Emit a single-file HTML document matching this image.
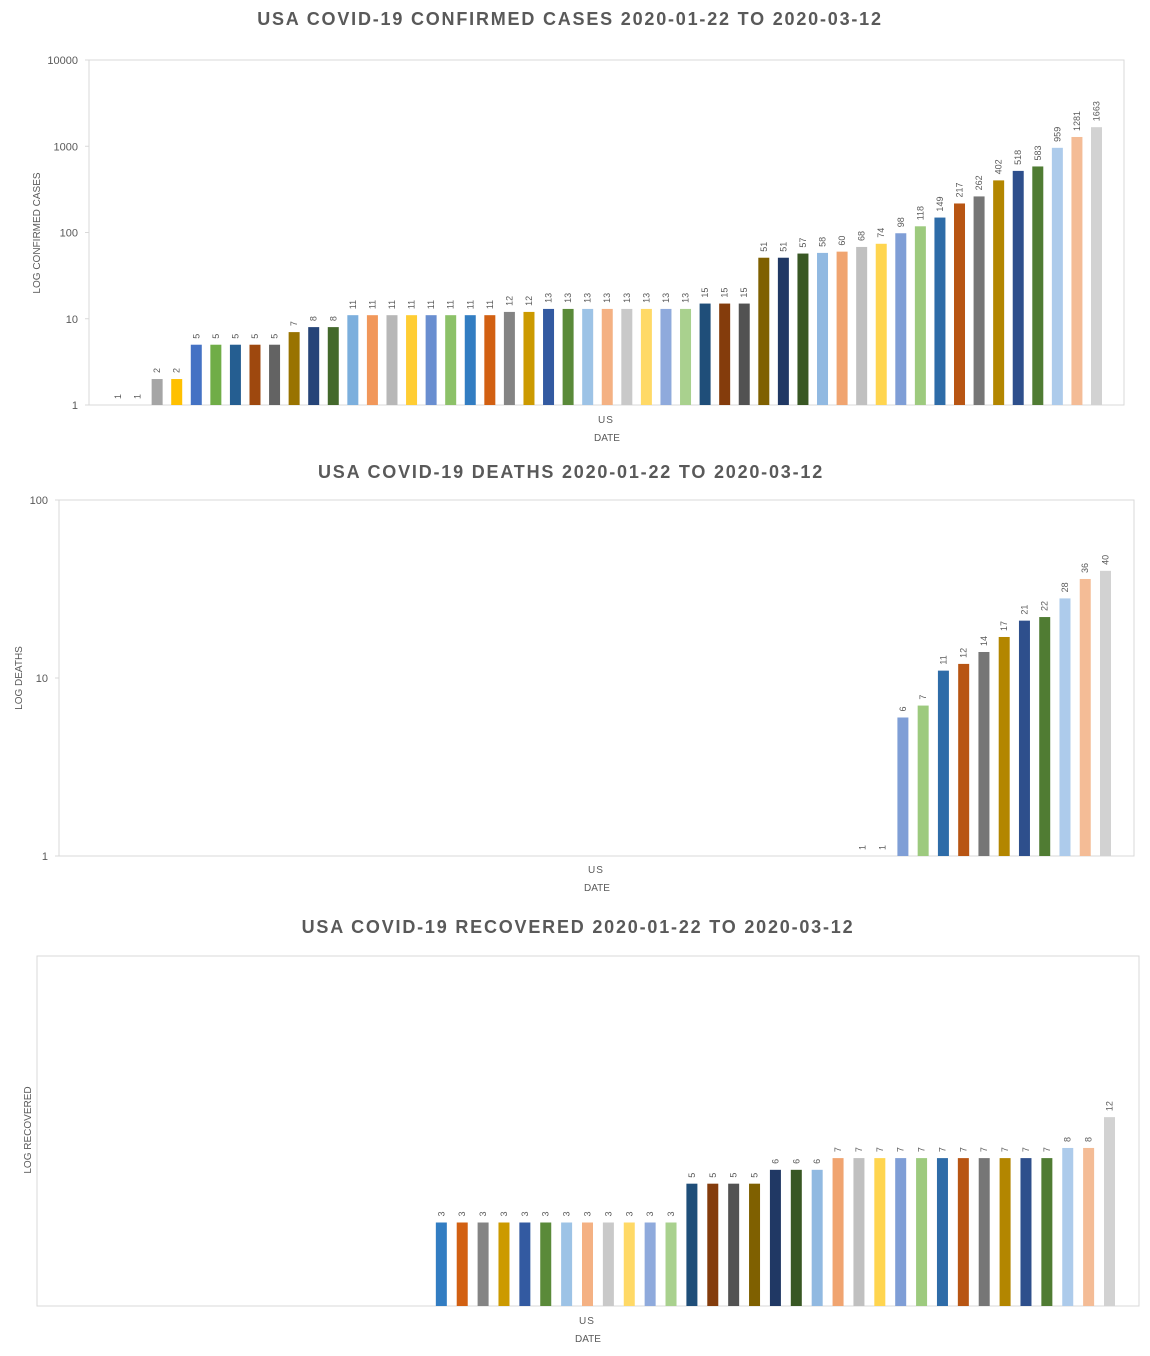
<!DOCTYPE html>
<html><head><meta charset="utf-8">
<style>
html,body{margin:0;padding:0;background:#fff;}
body{width:1150px;height:1356px;overflow:hidden;font-family:"Liberation Sans",Arial,sans-serif;}
svg{display:block;}
</style></head>
<body>
<svg id="svg" width="1150" height="1356" viewBox="0 0 1150 1356" xmlns="http://www.w3.org/2000/svg"></svg>
<script>
const colors = ["#5B9BD5","#ED7D31","#A5A5A5","#FFC000","#4472C4","#70AD47","#255E91","#9E480E","#636363","#997300","#264478","#43682B","#7CAFDD","#F1975A","#B7B7B7","#FFCD33","#698ED0","#8CC168","#327DC2","#D26012","#848484","#CC9A00","#335AA1","#5A8A39","#9DC3E6","#F4B183","#C9C9C9","#FFD966","#8FAADC","#A9D18E","#1F4E79","#843C0C","#525252","#7F6000","#203864","#385723","#91B9E1","#F0A470","#C0C0C0","#FFD54F","#7F9ED6","#9DCA7E","#2E6CA8","#B85513","#767676","#B38600","#2E4F8C","#507C33","#ADCBEB","#F4BC96","#D2D2D2"];
const confirmed = [1,1,2,2,5,5,5,5,5,7,8,8,11,11,11,11,11,11,11,11,12,12,13,13,13,13,13,13,13,13,15,15,15,51,51,57,58,60,68,74,98,118,149,217,262,402,518,583,959,1281,1663];
const deaths = [0,0,0,0,0,0,0,0,0,0,0,0,0,0,0,0,0,0,0,0,0,0,0,0,0,0,0,0,0,0,0,0,0,0,0,0,0,0,1,1,6,7,11,12,14,17,21,22,28,36,40];
const recovered = [0,0,0,0,0,0,0,0,0,0,0,0,0,0,0,0,0,0,3,3,3,3,3,3,3,3,3,3,3,3,5,5,5,5,6,6,6,7,7,7,7,7,7,7,7,7,7,7,8,8,12];
const confirmedTicks = [1,10,100,1000,10000];
const deathTicks = [1,10,100];
const recoveredTicks = [];

const NS="http://www.w3.org/2000/svg";
const svg=document.getElementById('svg');
function mk(tag,attrs,parent,text){const e=document.createElementNS(NS,tag);for(const k in attrs)e.setAttribute(k,attrs[k]);if(text!==undefined)e.textContent=text;(parent||svg).appendChild(e);return e;}

function chart(cfg){
  const g=mk('g',{});
  
  
  const {x0,x1,yTop,yBot,maxV,data}=cfg;
  const dec=Math.log10(maxV);
  const y=v=>yBot-(Math.log10(v)/dec)*(yBot-yTop);
  const n=data.length;
  const xc=i=>cfg.cFirst+(cfg.cLast-cfg.cFirst)*i/(n-1);
  const t=mk('text',{x:cfg.titleX,y:cfg.titleY,'text-anchor':'middle','font-size':'18','font-weight':'bold','letter-spacing':'1.8',fill:'#595959'},g,cfg.title);
  
  
  const fr=mk('rect',{x:x0,y:yTop,width:x1-x0,height:yBot-yTop,fill:'none',stroke:'#d9d9d9','stroke-width':1},g);
  
  
  cfg.ticks.forEach(v=>{
    const yy=y(v);
    mk('line',{x1:x0-4,x2:x0,y1:yy,y2:yy,stroke:'#d9d9d9'},g);
    const tl=mk('text',{x:x0-11,y:yy+4,'text-anchor':'end','font-size':'11',fill:'#595959'},g,String(v));
    
    
  });
  const bw=cfg.bw;
  data.forEach((v,i)=>{
    if(!v)return;
    const cx=xc(i), yy=y(v);
    if(v>1){
      const b=mk('rect',{x:cx-bw/2,y:yy,width:bw,height:yBot-yy,fill:colors[i]},g);
      
      
    }
    const lx=cx+3, ly=yy-6;
    const l=mk('text',{x:lx,y:ly,transform:`rotate(-90 ${lx} ${ly})`,'font-size':'9',fill:'#595959'},g,String(v));
    
    
  });
  const us=mk('text',{x:cfg.usX,y:cfg.usY,'text-anchor':'middle','font-size':'10','letter-spacing':'1',fill:'#595959'},g,'US');
  
  
  const dt=mk('text',{x:cfg.usX+1,y:cfg.usY+18,'text-anchor':'middle','font-size':'10',fill:'#595959'},g,'DATE');
  
  
  const ya=mk('text',{x:cfg.yTitleX,y:cfg.yTitleY,'text-anchor':'middle','font-size':'10',fill:'#595959',transform:`rotate(-90 ${cfg.yTitleX} ${cfg.yTitleY})`},g,cfg.yTitle);
  
  
}

chart({name:'confirmed-chart',title:'USA COVID-19 CONFIRMED CASES 2020-01-22 TO 2020-03-12',titleX:570,titleY:25,
  x0:89,x1:1124,yTop:60,yBot:405,maxV:10000,data:confirmed,ticks:confirmedTicks,cFirst:118,cLast:1096.5,bw:11,
  usX:606,usY:423,yTitle:'LOG CONFIRMED CASES',yTitleX:40,yTitleY:233});
chart({name:'deaths-chart',title:'USA COVID-19 DEATHS 2020-01-22 TO 2020-03-12',titleX:571,titleY:478,
  x0:59,x1:1134,yTop:500,yBot:856,maxV:100,data:deaths,ticks:deathTicks,cFirst:92.5,cLast:1105.5,bw:11,
  usX:596,usY:873,yTitle:'LOG DEATHS',yTitleX:22,yTitleY:678});
chart({name:'recovered-chart',title:'USA COVID-19 RECOVERED 2020-01-22 TO 2020-03-12',titleX:578,titleY:933,
  x0:37,x1:1139,yTop:956,yBot:1306,maxV:100,data:recovered,ticks:recoveredTicks,cFirst:65.5,cLast:1109.5,bw:11,
  usX:587,usY:1324,yTitle:'LOG RECOVERED',yTitleX:31,yTitleY:1130});
</script>
</body></html>
